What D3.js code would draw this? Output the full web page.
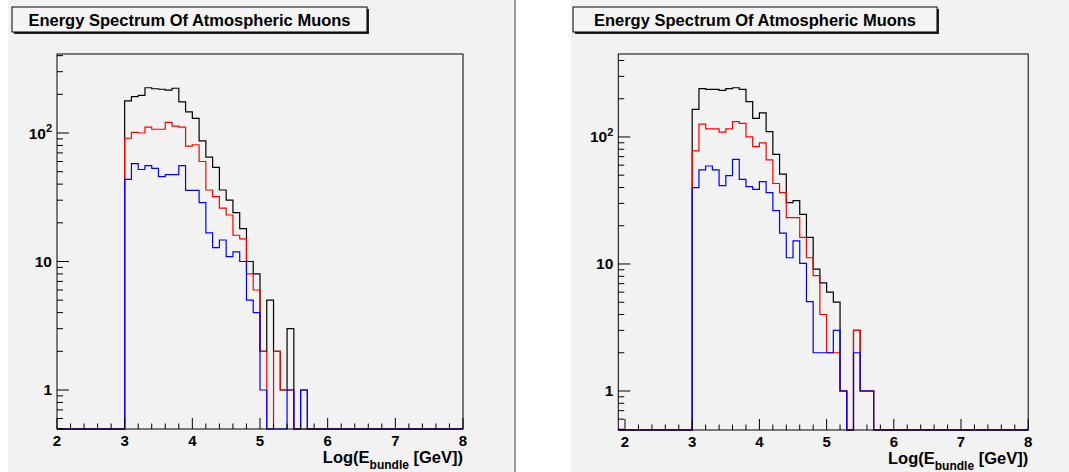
<!DOCTYPE html>
<html>
<head>
<meta charset="UTF-8">
<title>Energy Spectrum Of Atmospheric Muons</title>
<script src="https://cdn.jsdelivr.net/npm/d3@7"></script>
<style>
  body { margin: 0; background: #fff; }
  svg { display: block; font-family: "Liberation Sans", Arial, sans-serif; }
</style>
</head>
<body>
<svg id="chart" width="1069" height="472"></svg>
<script>
// bins: 0.1 wide, starting at log(E) = 3.0
const binStart = 3.0;
const binWidth = 0.1;
const xTicks = [2, 3, 4, 5, 6, 7, 8];
const yTicks = [1, 10, 100];
const title = "Energy Spectrum Of Atmospheric Muons";

// left plot
const blackL = [178, 192, 196, 225, 221, 219, 216, 223, 175, 146, 130, 87, 65, 54, 36, 30, 24, 18, 10, 8, 2, 5, 2, 1, 3, 0, 1];
const redL   = [91, 101, 100, 111, 107, 107, 121, 113, 111, 79, 81, 60, 36, 32, 26, 23, 16, 15, 8, 6, 2, 0, 2, 1, 1, 0, 0];
const blueL  = [43.6, 57.7, 52, 55.7, 53, 45.7, 47.4, 47.4, 55.7, 35.8, 35.8, 28.7, 16.7, 12.8, 14.7, 10.9, 11.9, 10, 5, 4, 1, 0, 0, 0, 1, 0, 1];

// right plot
const blackR = [165, 240, 237, 237, 233, 240, 244, 237, 190, 140, 155, 110, 73, 51, 30.4, 31.5, 24.6, 16.2, 9.1, 7.1, 6, 5, 1, 0, 3, 1, 1];
const redR   = [77.6, 126, 116, 116, 109, 116, 132, 128, 100, 84, 90, 66, 43, 36.5, 23.2, 23.2, 16.2, 11.2, 8.1, 4, 2, 2, 1, 0, 3, 1, 1];
const blueR  = [39.9, 55, 59.1, 55, 41.4, 49.6, 66.7, 46.4, 40.6, 38.7, 44.5, 36.4, 26.3, 17.5, 11.2, 15.2, 10.1, 5.05, 2, 2, 2, 3, 1, 0, 2, 1, 1];

const svg = d3.select("#chart");

// pad backgrounds
svg.append("rect").attr("x", 8).attr("y", 0).attr("width", 507).attr("height", 472).attr("fill", "#f2f2f2");
svg.append("rect").attr("x", 571).attr("y", 0).attr("width", 498).attr("height", 472).attr("fill", "#f2f2f2");
svg.append("rect").attr("x", 514).attr("y", 0).attr("width", 2).attr("height", 472).attr("fill", "#9a9a9a");

function drawPanel(p) {
    const g = svg.append("g");
    const x = d3.scaleLinear().domain(p.xDomain).range([p.left, p.right]);
    const y = d3.scaleLog().domain(p.yDomain).range([p.bottom, p.top]);
    const ymin = p.yDomain[0];

    // title box with shadow
    g.append("rect").attr("x", p.titleX + 2).attr("y", 9).attr("width", p.titleW).attr("height", 25).attr("fill", "#222");
    g.append("rect").attr("x", p.titleX).attr("y", 7).attr("width", p.titleW).attr("height", 25)
        .attr("fill", "#f4f4f4").attr("stroke", "#000").attr("stroke-width", 1);
    g.append("text").attr("x", p.titleX + p.titleW / 2).attr("y", 25.5)
        .attr("text-anchor", "middle").attr("font-size", 16.5).attr("font-weight", "bold")
        .attr("fill", "#000").text(title);

    // histograms: black, red, then blue on top
    const line = d3.line()
        .x(d => x(d[0]))
        .y(d => y(Math.max(d[1], ymin)))
        .curve(d3.curveStepAfter);
    p.series.forEach(s => {
        const pts = [[p.xDomain[0], 0]];
        s.values.forEach((v, i) => pts.push([binStart + i * binWidth, v]));
        pts.push([binStart + s.values.length * binWidth, 0]);
        pts.push([p.xDomain[1], 0]);
        g.append("path").attr("d", line(pts))
            .attr("fill", "none").attr("stroke", s.color).attr("stroke-width", 1.2);
    });

    // frame
    g.append("rect").attr("x", p.left).attr("y", p.top)
        .attr("width", p.right - p.left).attr("height", p.bottom - p.top)
        .attr("fill", "none").attr("stroke", "#000").attr("stroke-width", 1);

    // x ticks (inward)
    const xMinor = d3.range(Math.ceil(p.xDomain[0] * 5), p.xDomain[1] * 5 + 1).map(v => v / 5);
    xMinor.forEach(v => {
        const major = Math.abs(v - Math.round(v)) < 1e-6;
        g.append("line").attr("x1", x(v)).attr("x2", x(v))
            .attr("y1", p.bottom).attr("y2", p.bottom - (major ? 11 : 5.5))
            .attr("stroke", "#000").attr("stroke-width", 1);
    });
    xTicks.forEach(v => {
        g.append("text").attr("x", x(v)).attr("y", p.bottom + 16.5)
            .attr("text-anchor", "middle").attr("font-size", 15).attr("font-weight", "bold")
            .attr("fill", "#000").text(v);
    });

    // y ticks (inward)
    [0.1, 1, 10, 100].forEach(dec => {
        for (let k = 1; k <= 9; k++) {
            const v = dec * k;
            if (v < p.yDomain[0] || v > p.yDomain[1]) continue;
            g.append("line").attr("x1", p.left).attr("x2", p.left + (k === 1 ? 12 : 6))
                .attr("y1", y(v)).attr("y2", y(v)).attr("stroke", "#000").attr("stroke-width", 1);
        }
    });
    yTicks.forEach(v => {
        const t = g.append("text").attr("x", p.left - 5).attr("y", y(v) + 5.5)
            .attr("text-anchor", "end").attr("font-size", 15.5).attr("font-weight", "bold").attr("fill", "#000");
        if (v === 100) {
            t.append("tspan").text("10");
            t.append("tspan").attr("font-size", 11).attr("dy", -6.5).text("2");
        } else {
            t.text(v);
        }
    });

    // x axis title
    const xt = g.append("text").attr("x", p.right).attr("y", p.bottom + 34)
        .attr("text-anchor", "end").attr("font-size", 16.5).attr("font-weight", "bold").attr("fill", "#000");
    xt.append("tspan").text("Log(E");
    xt.append("tspan").attr("font-size", 12).attr("dy", 6).text("bundle");
    xt.append("tspan").attr("dy", -6).text(" [GeV])");
}

drawPanel({
    left: 57, right: 463, top: 54, bottom: 429,
    xDomain: [2, 8], yDomain: [0.497, 412],
    titleX: 12, titleW: 355,
    series: [
        { values: blackL, color: "#000000" },
        { values: redL, color: "#ff0000" },
        { values: blueL, color: "#0000ff" }
    ]
});

drawPanel({
    left: 618.3, right: 1028.2, top: 54, bottom: 430,
    xDomain: [1.9, 8], yDomain: [0.493, 450],
    titleX: 573, titleW: 364,
    series: [
        { values: blackR, color: "#000000" },
        { values: redR, color: "#ff0000" },
        { values: blueR, color: "#0000ff" }
    ]
});
</script>
</body>
</html>
